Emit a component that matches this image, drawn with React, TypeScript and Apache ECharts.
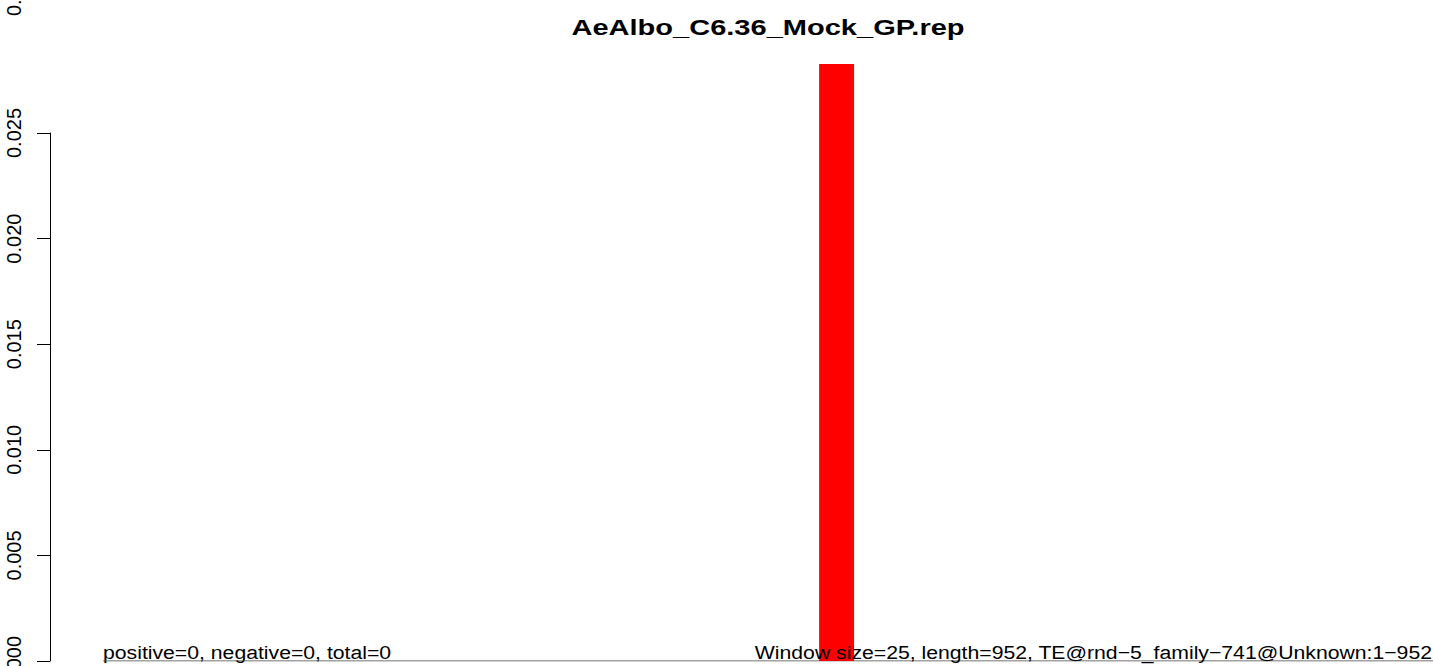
import React, { useEffect, useRef } from "react";
import * as echarts from "echarts";

const titleText = "AeAlbo_C6.36_Mock_GP.rep";
const leftNote = "positive=0, negative=0, total=0";
const rightNote = "Window size=25, length=952, TE@rnd\u22125_family\u2212741@Unknown:1\u2212952";
const yTicks = [0, 0.005, 0.01, 0.015, 0.02, 0.025];
const seqStart = 1;
const seqEnd = 952;
// windows: [start, end, value]
const windowStarts = [513];
const windowEnds = [538];
const windowValues = [0.02827];

export default function App() {
  const ref = useRef<HTMLDivElement>(null);
  useEffect(() => {
    if (!ref.current) return;
    const chart = echarts.init(ref.current, undefined, { renderer: "svg" });
    const windows = windowStarts.map((s, i) => [s, windowEnds[i], windowValues[i]]);
    chart.setOption({
      animation: false,
      backgroundColor: "#ffffff",
      grid: { left: 50, right: 0, top: 133, bottom: 5, containLabel: false, outerBoundsMode: "none" },
      xAxis: {
        type: "value",
        min: -37,
        max: 952,
        show: false,
      },
      yAxis: {
        type: "value",
        min: yTicks[0],
        max: yTicks[yTicks.length - 1],
        interval: 0.005,
        axisLine: { show: true, onZero: false, lineStyle: { color: "#000", width: 1 } },
        axisTick: { show: true, inside: false, length: 13, lineStyle: { color: "#000", width: 1 } },
        splitLine: { show: false },
        axisLabel: {
          rotate: 90,
          margin: 26,
          fontSize: 20,
          fontFamily: "Liberation Sans, Arial, sans-serif",
          color: "#000",
          formatter: (v: number) => v.toFixed(3),
        },
      },
      series: [
        {
          type: "line",
          data: [
            [seqStart, 0],
            [seqEnd, 0],
          ],
          symbol: "none",
          lineStyle: { color: "#444", width: 1 },
          z: 1,
        },
        {
          type: "custom",
          data: windows,
          clip: false,
          z: 2,
          renderItem: (params: any, api: any) => {
            const p0 = api.coord([api.value(0), 0]);
            const p1 = api.coord([api.value(1), api.value(2)]);
            return {
              type: "rect",
              shape: { x: p0[0], y: p1[1], width: p1[0] - p0[0], height: p0[1] - p1[1] },
              style: { fill: "#ff0000" },
            };
          },
        },
      ],
      graphic: [
        {
          type: "text",
          x: 768,
          y: 27,
          scaleX: 1.32,
          style: {
            text: titleText,
            fontSize: 22,
            fontWeight: "bold",
            fontFamily: "Liberation Sans, Arial, sans-serif",
            fill: "#000",
            align: "center",
            verticalAlign: "middle",
          },
        },
        {
          type: "text",
          x: 103,
          y: 652,
          scaleX: 1.116,
          style: {
            text: leftNote,
            fontSize: 19,
            fontFamily: "Liberation Sans, Arial, sans-serif",
            fill: "#000",
            align: "left",
            verticalAlign: "middle",
          },
        },
        {
          type: "text",
          x: 1432,
          y: 652,
          scaleX: 1.116,
          z: 10,
          style: {
            text: rightNote,
            fontSize: 19,
            fontFamily: "Liberation Sans, Arial, sans-serif",
            fill: "#000",
            align: "right",
            verticalAlign: "middle",
          },
        },
        {
          type: "text",
          x: 14,
          y: -9,
          rotation: Math.PI / 2,
          style: {
            text: "0.030",
            fontSize: 20,
            fontFamily: "Liberation Sans, Arial, sans-serif",
            fill: "#000",
            align: "center",
            verticalAlign: "middle",
          },
        },
      ],
    });
    return () => chart.dispose();
  }, []);
  return (
    <div
      ref={ref}
      style={{ position: "absolute", left: 0, top: 0, width: 1433, height: 666, background: "#fff" }}
    />
  );
}
